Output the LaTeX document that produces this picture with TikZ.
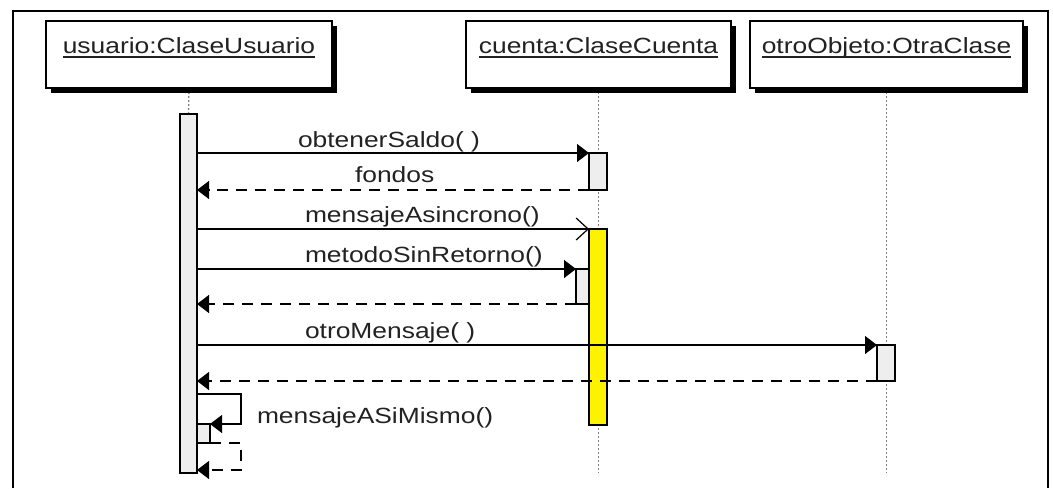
\documentclass[tikz,border=0pt]{standalone}
\usepackage{fontspec}
\setmainfont{Liberation Sans}[FakeStretch=1.2]
\usetikzlibrary{arrows.meta,shadows}
\definecolor{actfill}{HTML}{EEEEEE}
\definecolor{lifegray}{HTML}{808080}
\definecolor{inktext}{HTML}{222222}
\pgfdeclarelayer{back}
\pgfsetlayers{back,main}
\begin{document}
\begin{tikzpicture}[x=1pt,y=-1pt,
  every node/.style={inner sep=0pt, outer sep=0pt},
  txt/.style={font=\fontsize{22}{26}\selectfont, text=inktext},
  objbox/.style={draw, line width=1.4pt, fill=white, minimum height=67, anchor=north west,
    drop shadow={shadow xshift=5pt, shadow yshift=-5pt, fill=black, opacity=1}},
  act/.style={draw, line width=1.4pt, fill=actfill, anchor=north west, minimum width=17.5},
  nested/.style={act, minimum width=13},
  lifeline/.style={draw=lifegray, line width=1.3pt, dash pattern=on 2pt off 2pt},
  call/.style={line width=1.2pt, -{Triangle[length=12pt,width=18pt]}},
  async/.style={line width=1.2pt, -{Straight Barb[length=12pt,width=22pt]}},
  reply/.style={call, dash pattern=on 11pt off 8pt},
]
\useasboundingbox (0,0) rectangle (1053,488);

% diagram frame (open at the bottom)
\draw[line width=2pt] (12.7,488) -- (12.7,10.5) -- (1048,10.5) -- (1048,488);

% object heads
\node[objbox, minimum width=286] (u) at (46,21) {};
\node[objbox, minimum width=265] (c) at (466,21) {};
\node[objbox, minimum width=273] (o) at (750,21) {};

\node[txt, anchor=base] (ut) at (u.center |- 0,53) {usuario:ClaseUsuario};
\node[txt, anchor=base] (ct) at (c.center |- 0,53) {cuenta:ClaseCuenta};
\node[txt, anchor=base] (ot) at (o.center |- 0,53) {otroObjeto:OtraClase};
\foreach \t in {ut,ct,ot}
  \draw[line width=1.2pt, inktext] ([yshift=-4pt]\t.base west) -- ([yshift=-4pt]\t.base east);

% activation bars
\node[act, minimum width=17, minimum height=359] (ua) at (180,114) {};
\node[act, minimum width=18, minimum height=37] (sa) at (589,153) {};
\node[act, minimum width=18, minimum height=196, fill=yellow] (ya) at (589,229) {};
\node[nested, minimum height=35] (na) at (576,269) {};
\node[act, minimum width=18, minimum height=36] (oa) at (877,345) {};
\node[nested, minimum height=19] (ma) at (197,424) {};

% lifelines
\begin{pgfonlayer}{back}
  \draw[lifeline] (u.south) -- (ua.north);
  \draw[lifeline] (c.south) -- (c.south |- 0,473);
  \draw[lifeline] (o.south) -- (o.south |- 0,473);
\end{pgfonlayer}

% messages
\draw[call] (sa.north west -| ua.east) -- (sa.north west);
\draw[reply] (sa.south west) -- (sa.south west -| ua.east);
\draw[async] (ya.north west -| ua.east) -- (ya.north west);
\draw[call] (na.north west -| ua.east) -- (na.north west);
\draw[reply] (na.south west) -- (na.south west -| ua.east);
\draw[call] (oa.north west -| ua.east) -- (oa.north west);
\draw[reply] (oa.south west) -- (oa.south west -| ua.east);

% self call
\coordinate (s1) at (241,394);
\coordinate (s2) at (241,470);
\draw[call] (ua.east |- s1) -- (s1) -- (s1 |- ma.north) -- (ma.north east);
\draw[reply] (ma.south east) -- (ma.south east -| s2) -- (s2) -- (ua.east |- s2);

% message labels
\node[txt, anchor=base west] (l1) at (298,147) {obtenerSaldo( )};
\node[txt, anchor=base west] (l2) at (355,182) {fondos};
\node[txt, anchor=base west] (l3) at (305,222) {mensajeAsincrono()};
\node[txt, anchor=base west] (l4) at (305,262) {metodoSinRetorno()};
\node[txt, anchor=base west] (l5) at (305,338) {otroMensaje( )};
\node[txt, anchor=base west] (l6) at (257,423) {mensajeASiMismo()};
\end{tikzpicture}
\end{document}
